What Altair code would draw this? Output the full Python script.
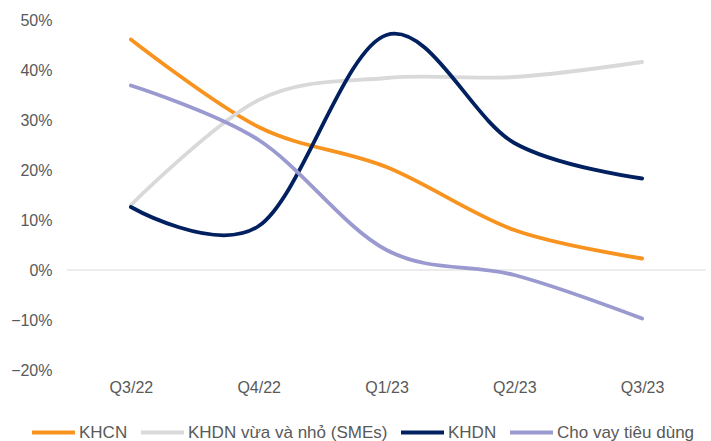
import altair as alt
import pandas as pd

# Quarters on the x axis
quarters = ["Q3/22", "Q4/22", "Q1/23", "Q2/23", "Q3/23"]

# Growth by segment (%)
khcn = [46.1, 28.6, 20.6, 8.0, 2.3]
smes = [13.0, 34.0, 38.4, 38.6, 41.6]
khdn = [12.6, 8.8, 47.0, 25.4, 18.3]
tieu_dung = [36.9, 26.0, 4.0, -1.0, -9.7]

series_names = ["KHCN", "KHDN vừa và nhỏ (SMEs)", "KHDN", "Cho vay tiêu dùng"]
series_colors = ["#F7931E", "#D9D9D9", "#002060", "#9A9AD0"]

rows = []
for name, values in zip(series_names, [khcn, smes, khdn, tieu_dung]):
    for q, v in zip(quarters, values):
        rows.append({"quarter": q, "series": name, "value": v / 100})
df = pd.DataFrame(rows)

font = "Liberation Sans"
text_color = "#595959"

lines = alt.Chart(df).mark_line(
    interpolate="cardinal", strokeWidth=3.8, strokeCap="round"
).encode(
    x=alt.X(
        "quarter:N",
        sort=quarters,
        scale=alt.Scale(paddingInner=0, paddingOuter=0),
        axis=alt.Axis(
            title=None, labelAngle=0, ticks=False, domain=False, grid=False,
            labelPadding=9, labelFontSize=16, labelColor=text_color, labelFont=font,
        ),
    ),
    y=alt.Y(
        "value:Q",
        scale=alt.Scale(domain=[-0.2, 0.5], nice=False),
        axis=alt.Axis(
            title=None, format=".0%", values=[-0.2, -0.1, 0, 0.1, 0.2, 0.3, 0.4, 0.5],
            ticks=False, domain=False, grid=False,
            labelPadding=15, labelFontSize=16, labelColor=text_color, labelFont=font,
        ),
    ),
    color=alt.Color(
        "series:N",
        sort=series_names,
        scale=alt.Scale(domain=series_names, range=series_colors),
        legend=alt.Legend(
            title=None, orient="none", direction="horizontal", columns=4,
            gridAlign="none", legendX=-37, legendY=389, padding=0,
            symbolType="stroke", symbolSize=1849, symbolStrokeWidth=3.8,
            labelFontSize=17, labelColor=text_color, labelFont=font,
            labelLimit=0, labelOffset=2, columnPadding=5, symbolOffset=0,
        ),
    ),
    order=alt.value(0),
)

zero_line = alt.Chart(pd.DataFrame({"y": [0]})).mark_rule(
    color="#D9D9D9", strokeWidth=1.2
).encode(y="y:Q")

chart = alt.layer(zero_line, lines).properties(
    width=639,
    height=350,
    autosize=alt.AutoSizeParams(type="none"),
    padding={"left": 67, "top": 20, "right": 5, "bottom": 71},
).configure_view(stroke=None)

chart.save("out.html", embed_options={"renderer": "svg", "actions": False})
